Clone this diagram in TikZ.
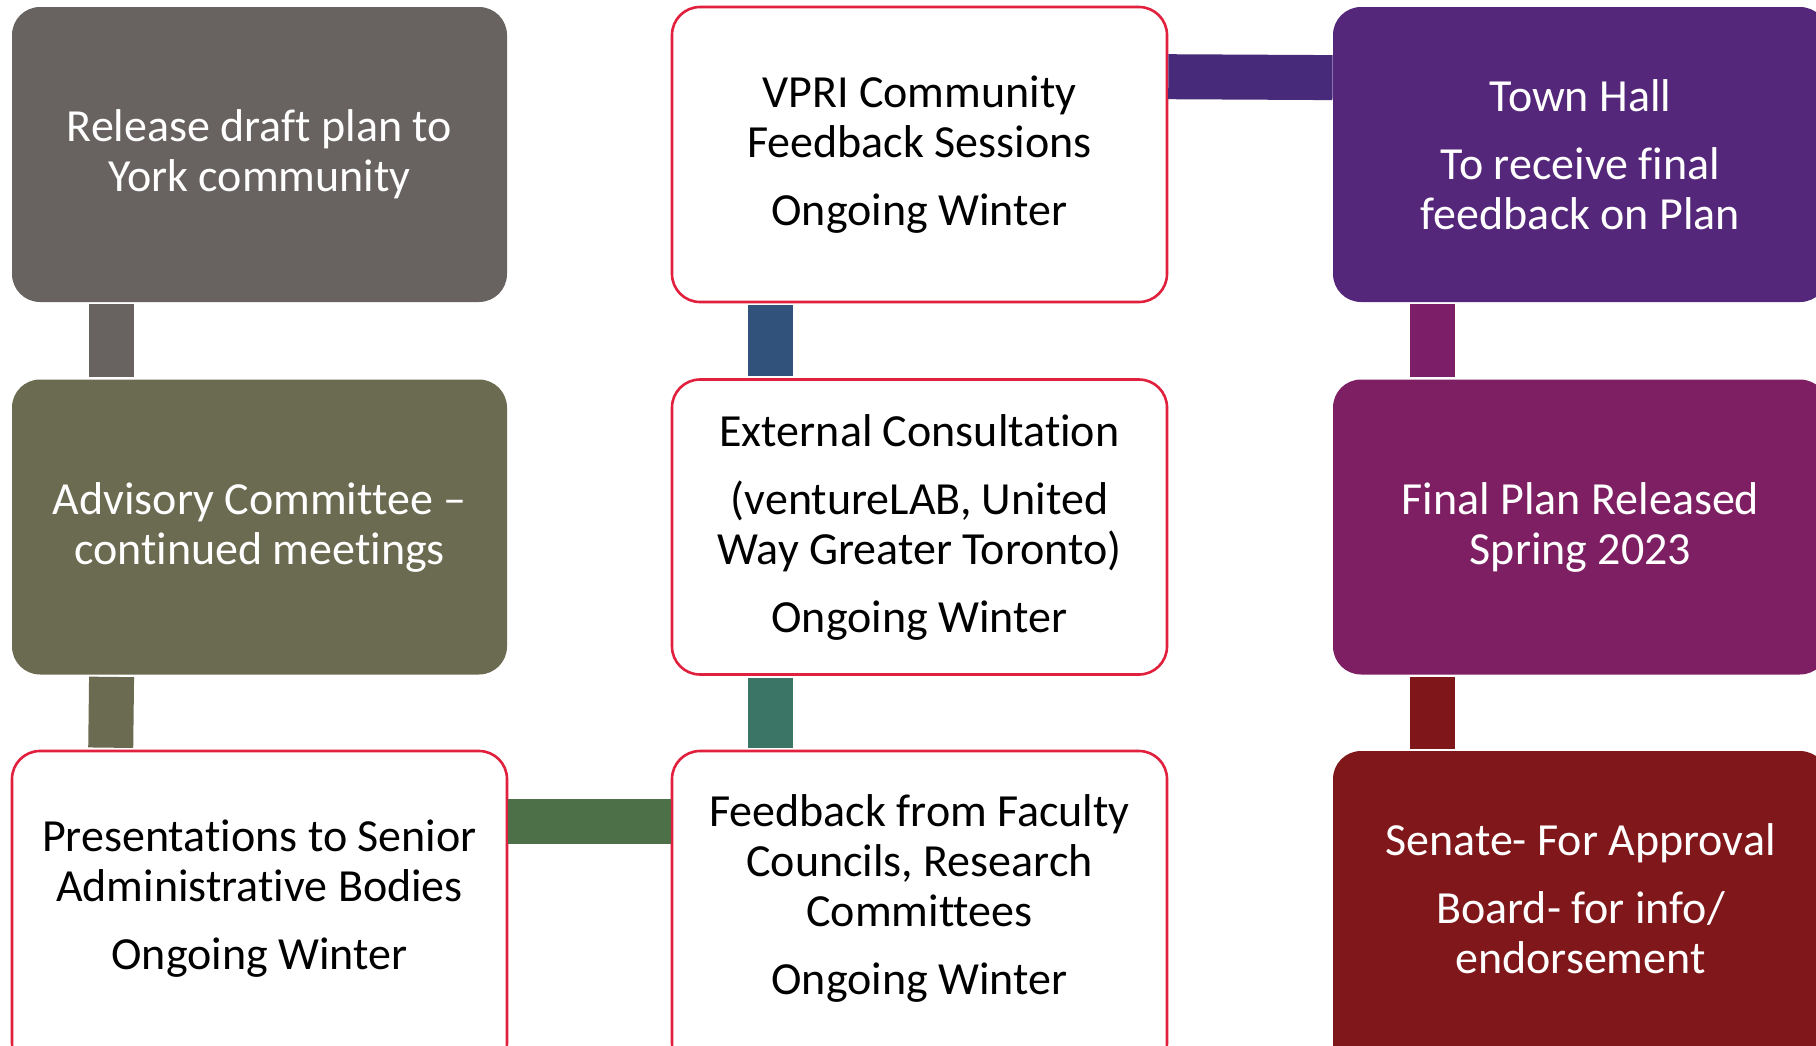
\documentclass[tikz,border=0pt]{standalone}
\usepackage{fontspec}
\setmainfont{Carlito}[Ligatures=NoCommon]
\usetikzlibrary{calc}
\definecolor{cgray}{HTML}{686360}
\definecolor{colive}{HTML}{6B6B51}
\definecolor{cgreen}{HTML}{4D7049}
\definecolor{cblue}{HTML}{31527B}
\definecolor{cteal}{HTML}{3B7565}
\definecolor{cpurpleline}{HTML}{482A7A}
\definecolor{cpurple}{HTML}{55277A}
\definecolor{cmagline}{HTML}{7D1F68}
\definecolor{cmag}{HTML}{7D1F62}
\definecolor{credline}{HTML}{7F1619}
\definecolor{cdred}{HTML}{80171A}
\definecolor{cborder}{HTML}{E0203C}
\begin{document}
\begin{tikzpicture}[x=0.5pt,y=-0.5pt,
  boxbase/.style={rounded corners=14pt, minimum width=247.5pt, minimum height=147.5pt, inner sep=0pt, align=center, font=\fontsize{23}{25}\selectfont},
  fbox/.style={boxbase, fill=#1, text=white},
  wbox/.style={boxbase, draw=cborder, line width=1.3pt, fill=white, text=black},
  txt/.style={align=center, inner sep=0pt, font=\fontsize{23}{25}\selectfont},
  conn/.style={line width=22.5pt, draw=#1, shorten <=1pt, shorten >=1pt},
  hconn/.style={line width=22.5pt, draw=#1}]
\useasboundingbox (0,0) rectangle (1816,1045);
\clip (0,0) rectangle (1816,1045);
% left column
\node[fbox=cgray] (b1) at (259.5,154.5) {Release draft plan to\\York community};
\node[fbox=colive] (b4) at (259.5,527) {Advisory Committee --\\continued meetings};
\node[wbox, minimum height=160pt] (b7) at (259.5,911) {};
\node[txt, text=black] (t7) at (259.5,898.5) {Presentations to Senior\\Administrative Bodies\\[9pt]Ongoing Winter};
% middle column
\node[wbox] (b2) at (919.5,154.5) {VPRI Community\\Feedback Sessions\\[9pt]Ongoing Winter};
\node[wbox] (b5) at (919.5,527) {External Consultation\\[9pt](ventureLAB, United\\Way Greater Toronto)\\[9pt]Ongoing Winter};
\node[wbox, minimum height=160pt] (b8) at (919.5,911) {};
\node[txt, text=black] (t8) at (919.5,898.5) {Feedback from Faculty\\Councils, Research\\Committees\\[9pt]Ongoing Winter};
% right column
\node[fbox=cpurple] (b3) at (1580.5,154.5) {Town Hall\\[9pt]To receive final\\feedback on Plan};
\node[fbox=cmag] (b6) at (1580.5,527) {Final Plan Released\\Spring 2023};
\node[fbox=cdred, minimum height=160pt] (b9) at (1580.5,911) {};
\node[txt, text=white] (t9) at (1580.5,898.5) {Senate- For Approval\\[9pt]Board- for info/\\endorsement};
% connectors
\draw[conn=cgray] ($(b1.south west)+(100,0)$) -- ($(b4.north west)+(100,0)$);
\draw[conn=colive] ($(b4.south west)+(100,0)$) -- ($(b7.north west)+(100,0)$);
\draw[hconn=cgreen] ($(b7.north east)+(0,72)$) -- ($(b8.north west)+(0,72)$);
\draw[conn=cteal] ($(b8.north west)+(100,0)$) -- ($(b5.south west)+(100,0)$);
\draw[conn=cblue] ($(b5.north west)+(100,0)$) -- ($(b2.south west)+(100,0)$);
\draw[hconn=cpurpleline] ($(b2.north east)+(0,71)$) -- ($(b3.north west)+(0,71)$);
\draw[conn=cmagline] ($(b3.south west)+(100,0)$) -- ($(b6.north west)+(100,0)$);
\draw[conn=credline] ($(b6.south west)+(100,0)$) -- ($(b9.north west)+(100,0)$);
\end{tikzpicture}
\end{document}
